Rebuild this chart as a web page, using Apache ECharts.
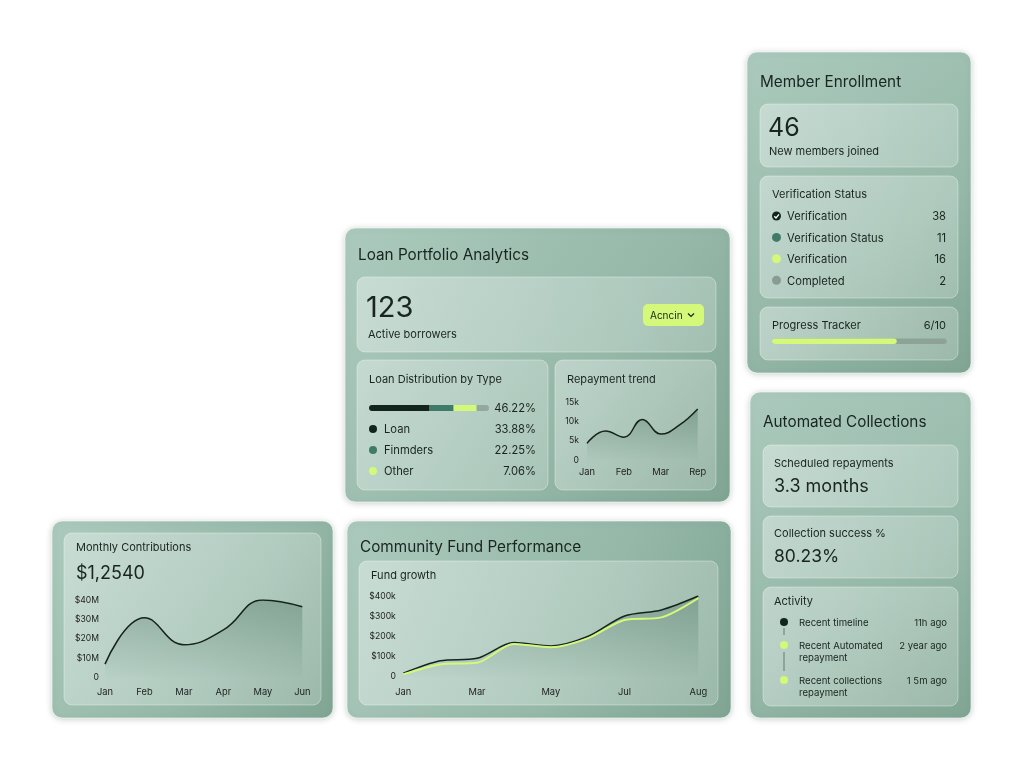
<!DOCTYPE html>
<html lang="en">
<head>
    <meta charset="UTF-8">
    <title>Community Lending Dashboard</title>
    <script src="https://cdn.jsdelivr.net/npm/echarts@6/dist/echarts.min.js"></script>
    <style>
        html, body { margin: 0; padding: 0; background: #fff; }
    </style>
</head>
<body>
<div id="main" style="width: 1024px;height:765px;"></div>

<script>
    // data
    const repayMonths = ['Jan', '', 'Feb', '', 'Mar', '', 'Rep'];
    const repayValues = [4.3, 7.5, 5.9, 10.5, 6.7, 9.0, 13.2];          // k

    const contribMonths = ['Jan', 'Feb', 'Mar', 'Apr', 'May', 'Jun'];
    const contribValues = [7.0, 30.8, 17.0, 24.6, 40.0, 36.5];          // $M

    const fundMonths = ['Jan', '', 'Mar', '', 'May', '', 'Jul', '', 'Aug'];
    const fundTotal = [17, 79, 91, 169, 152, 199, 301, 331, 400];       // $k
    const fundTarget = [12, 61, 69, 162, 146, 190, 281, 294, 390];      // $k

    const loanShareNames = ['Loan', 'Finmders', 'Other', 'Rest'];
    const loanShareBar = [50.5, 20.0, 19.2, 10.3];
    const loanSharePct = ['33.88%', '22.25%', '7.06%'];
    const loanTotalPct = '46.22%';

    const verifyNames = ['Verification', 'Verification Status', 'Verification', 'Completed'];
    const verifyCounts = [38, 11, 16, 2];

    const progressLabel = '6/10';
    const progressFill = [71.4];

    const activityTitles = [['Recent timeline'], ['Recent Automated', 'repayment'], ['Recent collections', 'repayment']];
    const activityTimes = ['11h ago', '2 year ago', '1 5m ago'];

    const DARK = '#12251d', TEAL = '#3f7b68', LIME = '#d3f87a', GREY = '#899c93';
    const INK = '#1a2420';
    const FONT = 'Inter';

    const chart = echarts.init(document.getElementById('main'));
    const g = [];

    function card(x, y, w, h) {
        g.push({
            type: 'rect', z: -20, shape: {x: x, y: y, width: w, height: h, r: 10},
            style: {
                fill: new echarts.graphic.LinearGradient(0, 0, 1, 1, [
                    {offset: 0, color: '#abcabd'}, {offset: 0.6, color: '#95b8a8'}, {offset: 1, color: '#80a593'}]),
                stroke: 'rgba(255,255,255,0.55)', lineWidth: 1,
                shadowBlur: 6, shadowColor: 'rgba(40,70,55,0.25)', shadowOffsetY: 1
            }
        });
    }
    function panel(x, y, w, h) {
        g.push({
            type: 'rect', z: -10, shape: {x: x, y: y, width: w, height: h, r: 8},
            style: {
                fill: new echarts.graphic.LinearGradient(0, 0, 1, 1, [
                    {offset: 0, color: 'rgba(255,255,255,0.36)'}, {offset: 1, color: 'rgba(255,255,255,0.2)'}]),
                stroke: 'rgba(255,255,255,0.35)', lineWidth: 1
            }
        });
    }
    function text(str, x, y, size, opts) {
        opts = opts || {};
        g.push({
            type: 'text', z: 20, x: x, y: y + 1,
            style: {
                text: str, fill: opts.color || INK,
                fontSize: size, fontFamily: FONT, fontWeight: opts.weight || 'normal',
                align: opts.align || 'left', textAlign: opts.align || 'left',
                verticalAlign: 'middle', textVerticalAlign: 'middle'
            }
        });
    }
    function dot(x, y, r, color) {
        g.push({type: 'circle', z: 20, shape: {cx: x, cy: y, r: r}, style: {fill: color}});
    }

    const TITLE = 15.3, SMALL = 11, ROW = 11.2;

    // ---- Loan Portfolio Analytics
    card(345, 228, 385, 274);
    text('Loan Portfolio Analytics', 358, 254, TITLE);
    panel(357, 277, 359, 75);
    text('123', 366, 307, 29);
    text('Active borrowers', 368, 334, SMALL);
    g.push({type: 'rect', z: 15, shape: {x: 643, y: 304, width: 61, height: 22, r: 5}, style: {fill: LIME}});
    text('Acncin', 650, 315, 10);
    g.push({type: 'polyline', z: 20, shape: {points: [[688, 313.5], [691, 316.5], [694, 313.5]]},
        style: {stroke: INK, lineWidth: 1.2, fill: null}});
    panel(357, 360, 191, 130);
    text('Loan Distribution by Type', 369, 379, SMALL);
    text(loanTotalPct, 536, 408, ROW, {align: 'right'});
    [DARK, TEAL, LIME].forEach(function (c, i) {
        const y = 429 + i * 21;
        dot(373, y, 4, c);
        text(loanShareNames[i], 384, y, ROW);
        text(loanSharePct[i], 536, y, ROW, {align: 'right'});
    });
    panel(555, 360, 161, 130);
    text('Repayment trend', 567, 379, SMALL);

    // ---- Member Enrollment
    card(747, 52, 224, 321);
    text('Member Enrollment', 760, 81, TITLE);
    panel(760, 104, 198, 63);
    text('46', 768, 127, 25);
    text('New members joined', 769, 151, SMALL);
    panel(760, 176, 198, 122);
    text('Verification Status', 772, 194, SMALL);
    const verifyColors = [DARK, TEAL, LIME, GREY];
    verifyNames.forEach(function (name, i) {
        const y = 216 + i * 21.4;
        dot(776.5, y, 4.5, verifyColors[i]);
        text(name, 787, y, ROW);
        text(String(verifyCounts[i]), 946, y, ROW, {align: 'right'});
    });
    g.push({type: 'polyline', z: 25, shape: {points: [[774.3, 216.2], [776, 218], [779, 214.4]]},
        style: {stroke: '#fff', lineWidth: 1.3, fill: null}});
    panel(760, 307, 198, 53);
    text('Progress Tracker', 772, 325, SMALL);
    text(progressLabel, 946, 325, SMALL, {align: 'right'});

    // ---- Automated Collections
    card(750, 392, 221, 326);
    text('Automated Collections', 763, 421, TITLE);
    panel(763, 445, 195, 62);
    text('Scheduled repayments', 774, 463, SMALL);
    text('3.3 months', 774, 486, 18);
    panel(763, 516, 195, 62);
    text('Collection success %', 774, 533, SMALL);
    text('80.23%', 774, 556, 17.5);
    panel(763, 587, 195, 119);
    text('Activity', 774, 601, SMALL);
    g.push({type: 'line', z: 18, shape: {x1: 784, y1: 628, x2: 784, y2: 635}, style: {stroke: '#5f7d70', lineWidth: 1}});
    g.push({type: 'line', z: 18, shape: {x1: 784, y1: 652, x2: 784, y2: 671}, style: {stroke: '#5f7d70', lineWidth: 1}});
    const activityY = [622, 645, 680];
    const activityDots = [DARK, LIME, LIME];
    activityTitles.forEach(function (lines, i) {
        const y = activityY[i];
        dot(784, y, 4, activityDots[i]);
        lines.forEach(function (ln, k) { text(ln, 799, y + k * 12, 9.6); });
        text(activityTimes[i], 947, y, 9.5, {align: 'right'});
    });

    // ---- Monthly Contributions
    card(52, 521, 281, 197);
    panel(64, 533, 257, 172);
    text('Monthly Contributions', 76, 547, SMALL);
    text('$1,2540', 76, 573, 18);

    // ---- Community Fund Performance
    card(347, 521, 384, 197);
    text('Community Fund Performance', 360, 546, TITLE);
    panel(359, 561, 359, 144);
    text('Fund growth', 371, 575, SMALL);

    const axisText = {color: '#222', fontSize: 9.3, fontFamily: FONT};
    function areaFill() {
        return new echarts.graphic.LinearGradient(0, 0, 0, 1, [
            {offset: 0, color: 'rgba(62,104,84,0.5)'}, {offset: 1, color: 'rgba(62,104,84,0.02)'}]);
    }
    function catAxis(idx, data, margin) {
        return {type: 'category', gridIndex: idx, data: data, boundaryGap: false,
            axisLine: {show: false}, axisTick: {show: false},
            axisLabel: Object.assign({interval: 0, margin: margin}, axisText)};
    }
    function valAxis(idx, max, step, fmt, margin) {
        return {type: 'value', gridIndex: idx, min: 0, max: max, interval: step,
            axisLine: {show: false}, axisTick: {show: false}, splitLine: {show: false},
            axisLabel: Object.assign({margin: margin, formatter: fmt}, axisText, {fontSize: 8.6})};
    }

    const option = {
        animation: false,
        backgroundColor: '#ffffff',
        graphic: {elements: g},
        grid: [
            {left: 587, right: 326.3, top: 402, bottom: 305},      // repayment trend
            {left: 105, right: 721.7, top: 600, bottom: 87.3},     // monthly contributions
            {left: 403.3, right: 325.7, top: 596, bottom: 88.3},   // fund growth
            {left: 369, width: 120, top: 405, height: 6},          // loan distribution bar
            {left: 772, width: 174.7, top: 338.5, height: 5.5}     // progress tracker
        ],
        xAxis: [
            catAxis(0, repayMonths, 8),
            catAxis(1, contribMonths, 10),
            catAxis(2, fundMonths, 11),
            {type: 'value', gridIndex: 3, min: 0, max: 100, show: false},
            {type: 'value', gridIndex: 4, min: 0, max: 100, show: false}
        ],
        yAxis: [
            valAxis(0, 15, 5, function (v) { return v === 0 ? '0' : v + 'k'; }, 8),
            valAxis(1, 40, 10, function (v) { return v === 0 ? '0' : '$' + v + 'M'; }, 6),
            valAxis(2, 400, 100, function (v) { return v === 0 ? '0' : '$' + v + 'k'; }, 7.5),
            {type: 'category', gridIndex: 3, data: ['share'], show: false},
            {type: 'category', gridIndex: 4, data: ['progress'], show: false}
        ],
        series: [
            {type: 'line', xAxisIndex: 0, yAxisIndex: 0, data: repayValues, smooth: 0.45,
                symbol: 'none', lineStyle: {color: '#16231c', width: 1.5}, areaStyle: {color: areaFill()}, z: 5},
            {type: 'line', xAxisIndex: 1, yAxisIndex: 1, data: contribValues, smooth: 0.45,
                symbol: 'none', lineStyle: {color: '#16231c', width: 1.5}, areaStyle: {color: areaFill()}, z: 5},
            {type: 'line', xAxisIndex: 2, yAxisIndex: 2, data: fundTotal, smooth: 0.3,
                symbol: 'none', lineStyle: {color: '#16231c', width: 1.5}, areaStyle: {color: areaFill()}, z: 5},
            {type: 'line', xAxisIndex: 2, yAxisIndex: 2, data: fundTarget, smooth: 0.3,
                symbol: 'none', lineStyle: {color: LIME, width: 2}, z: 6}
        ].concat(loanShareBar.map(function (v, i) {
            const colors = [DARK, TEAL, LIME, '#93a89e'];
            const r = i === 0 ? [3, 0, 0, 3] : (i === loanShareBar.length - 1 ? [0, 3, 3, 0] : 0);
            return {type: 'bar', name: loanShareNames[i], xAxisIndex: 3, yAxisIndex: 3, stack: 'share',
                data: [v], barWidth: 6, itemStyle: {color: colors[i], borderRadius: r}, z: 5};
        })).concat([
            {type: 'bar', xAxisIndex: 4, yAxisIndex: 4, data: progressFill, barWidth: 5.5,
                showBackground: true, backgroundStyle: {color: '#8ea398', borderRadius: 3},
                itemStyle: {color: LIME, borderRadius: 3}, z: 5}
        ])
    };
    chart.setOption(option);
</script>
</body>
</html>
